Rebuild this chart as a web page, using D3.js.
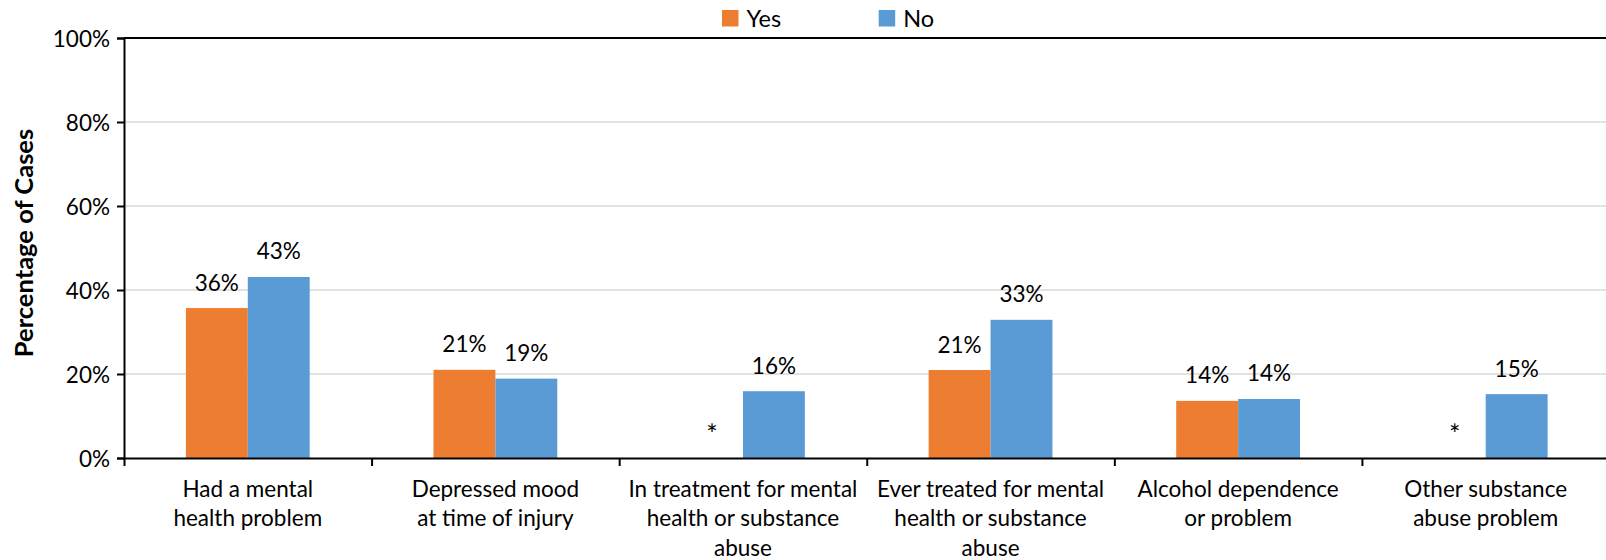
<!DOCTYPE html>
<html>
<head>
<meta charset="utf-8">
<script src="https://cdn.jsdelivr.net/npm/d3@7"></script>
<style>
  html, body { margin: 0; padding: 0; background: #fff; }
  svg { display: block; font-family: Lato, "Open Sans", sans-serif; }
</style>
</head>
<body>
<svg id="chart" width="1606" height="560"></svg>
<script>
// ---- data ----
const categories = [
  ["Had a mental", "health problem"],
  ["Depressed mood", "at time of injury"],
  ["In treatment for mental", "health or substance", "abuse"],
  ["Ever treated for mental", "health or substance", "abuse"],
  ["Alcohol dependence", "or problem"],
  ["Other substance", "abuse problem"]
];
const seriesNames = ["Yes", "No"];
const yesValues = [35.7, 21.0, null, 20.95, 13.6, null];
const noValues  = [43.1, 18.9, 15.9, 32.9, 14.05, 15.2];
const yesLabels = ["36%", "21%", "*", "21%", "14%", "*"];
const noLabels  = ["43%", "19%", "16%", "33%", "14%", "15%"];
const yTicks = [0, 20, 40, 60, 80, 100];
const yTitle = "Percentage of Cases";

const colors = { Yes: "#ED7D31", No: "#5B9BD5" };

// ---- layout ----
const svg = d3.select("#chart");
const margin = { left: 124, top: 38, bottom: 458, right: 1609.5 };
const FS = 22.5;

const x0 = d3.scaleBand().domain(d3.range(categories.length))
  .range([margin.left, margin.right]).paddingInner(0).paddingOuter(0);
const x1 = d3.scaleBand().domain(seriesNames)
  .range([0, x0.bandwidth()]).paddingInner(0).paddingOuter(1);
const y = d3.scaleLinear().domain([0, 100]).range([margin.bottom, margin.top]);

// gridlines
svg.append("g").selectAll("line").data(yTicks.filter(t => t > 0 && t < 100)).join("line")
  .attr("x1", margin.left).attr("x2", 1606)
  .attr("y1", d => y(d)).attr("y2", d => y(d))
  .attr("stroke", "#d9d9d9").attr("stroke-width", 1.5);

// top border
svg.append("line").attr("x1", margin.left).attr("x2", 1606)
  .attr("y1", y(100)).attr("y2", y(100))
  .attr("stroke", "#000").attr("stroke-width", 2);

// bars
const rows = categories.map((c, i) => ({ i, Yes: yesValues[i], No: noValues[i], lYes: yesLabels[i], lNo: noLabels[i] }));
const gBars = svg.append("g");
rows.forEach(r => {
  seriesNames.forEach(s => {
    const v = r[s];
    const bx = x0(r.i) + x1(s);
    if (v != null) {
      gBars.append("rect")
        .attr("x", bx).attr("width", x1.bandwidth())
        .attr("y", y(v)).attr("height", y(0) - y(v))
        .attr("fill", colors[s]);
    }
    const lbl = s === "Yes" ? r.lYes : r.lNo;
    gBars.append("text")
      .attr("x", bx + x1.bandwidth() / 2)
      .attr("y", y(v == null ? 0 : v) - (v == null ? 14 : 17.5))
      .attr("text-anchor", "middle")
      .attr("font-size", lbl === "*" ? 27 : FS)
      .attr("fill", "#000")
      .text(lbl);
  });
});

// y axis
const yAxis = d3.axisLeft(y).tickValues(yTicks).tickFormat(d => d + "%").tickSize(7).tickPadding(7);
const gy = svg.append("g").attr("transform", `translate(${margin.left},0)`).call(yAxis);
gy.select(".domain").attr("stroke", "#000").attr("stroke-width", 2);
gy.selectAll(".tick line").attr("stroke", "#000").attr("stroke-width", 2);
gy.selectAll(".tick text").attr("font-size", FS).attr("fill", "#000")
  .attr("font-family", "Lato, sans-serif").attr("dy", "0.36em");

// x axis
const xAxis = d3.axisBottom(d3.scaleLinear().domain([0, 6]).range([margin.left, margin.right]))
  .tickValues(d3.range(0, 6)).tickFormat("").tickSize(8).tickSizeOuter(0);
const gx = svg.append("g").attr("transform", `translate(0,${margin.bottom})`).call(xAxis);
gx.select(".domain").attr("stroke", "#000").attr("stroke-width", 2);
gx.selectAll(".tick line").attr("stroke", "#000").attr("stroke-width", 2);

// category labels
const gCat = svg.append("g");
categories.forEach((lines, i) => {
  const t = gCat.append("text")
    .attr("x", x0(i) + x0.bandwidth() / 2)
    .attr("y", 497)
    .attr("text-anchor", "middle")
    .attr("font-size", FS)
    .attr("fill", "#000");
  lines.forEach((ln, k) => {
    t.append("tspan").attr("x", x0(i) + x0.bandwidth() / 2)
      .attr("y", 497 + k * 29.3).text(ln);
  });
});

// y title
svg.append("text")
  .attr("transform", `translate(33,${(margin.top + margin.bottom) / 2 - 5}) rotate(-90)`)
  .attr("text-anchor", "middle")
  .attr("font-size", 25.5)
  .attr("font-weight", "bold")
  .attr("fill", "#000")
  .text(yTitle);

// legend
const legendItems = [{ name: "Yes", x: 722 }, { name: "No", x: 878.7 }];
const gl = svg.append("g");
legendItems.forEach(it => {
  gl.append("rect").attr("x", it.x).attr("y", 10).attr("width", 16.5).attr("height", 16.5)
    .attr("fill", colors[it.name]);
  gl.append("text").attr("x", it.x + 24.5).attr("y", 26.5)
    .attr("font-size", 23.5).attr("fill", "#000").text(it.name);
});
</script>
</body>
</html>
